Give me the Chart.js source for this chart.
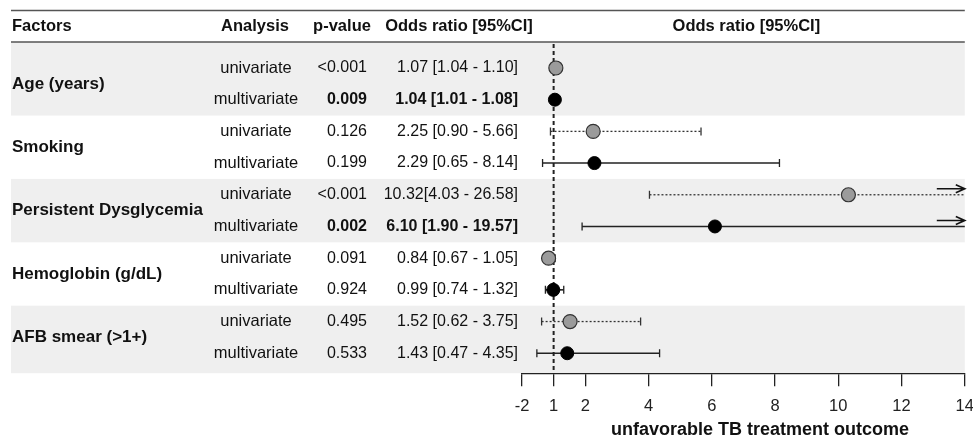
<!DOCTYPE html>
<html>
<head>
<meta charset="utf-8">
<script src="https://cdn.jsdelivr.net/npm/chart.js@4/dist/chart.umd.min.js"></script>
<style>
  body { margin: 0; background: #fff; }
</style>
</head>
<body>
<canvas id="forest" width="973" height="441"></canvas>
<script>
const factors = ["Age (years)", "Smoking", "Persistent Dysglycemia", "Hemoglobin (g/dL)", "AFB smear (>1+)"];
const analyses = ["univariate", "multivariate"];
const pValues = ["<0.001", "0.009", "0.126", "0.199", "<0.001", "0.002", "0.091", "0.924", "0.495", "0.533"];
const oddsRatios = [1.07, 1.04, 2.25, 2.29, 10.32, 6.10, 0.84, 0.99, 1.52, 1.43];
const ciLow = [1.04, 1.01, 0.90, 0.65, 4.03, 1.90, 0.67, 0.74, 0.62, 0.47];
const ciHigh = [1.10, 1.08, 5.66, 8.14, 26.58, 19.57, 1.05, 1.32, 3.75, 4.35];
const significant = [false, true, false, false, false, true, false, false, false, false];
const tickValues = [0, 1, 2, 4, 6, 8, 10, 12, 14];
const tickLabels = ["-2", "1", "2", "4", "6", "8", "10", "12", "14"];

const FONT = "'Liberation Sans', Arial, sans-serif";
const orText = (i) => {
  let or = oddsRatios[i].toFixed(2);
  let gap = oddsRatios[i] >= 10 ? "" : " ";
  return `${or}${gap}[${ciLow[i].toFixed(2)} - ${ciHigh[i].toFixed(2)}]`;
};

const rowsOf = (kind) => oddsRatios
  .map((v, i) => ({ x: v, y: i }))
  .filter((p) => p.y % 2 === kind);

const forestPlugin = {
  id: "forest",
  beforeDraw(chart) {
    const { ctx, chartArea, scales } = chart;
    const y = scales.y;
    ctx.save();
    ctx.fillStyle = "#fff";
    ctx.fillRect(0, 0, chart.width, chart.height);
    // shaded bands for every other factor
    ctx.fillStyle = "#efefef";
    for (let g = 0; g < factors.length; g += 2) {
      let top = g === 0 ? chartArea.top : y.getPixelForValue(2 * g - 0.5);
      let bottom = g === factors.length - 1 ? chartArea.bottom : y.getPixelForValue(2 * g + 1.5);
      ctx.fillRect(11, top, chartArea.right - 11, bottom - top);
    }
    ctx.strokeStyle = "#555";
    ctx.lineWidth = 1.5;
    ctx.beginPath();
    ctx.moveTo(11, 10.5);
    ctx.lineTo(chartArea.right, 10.5);
    ctx.moveTo(11, chartArea.top);
    ctx.lineTo(chartArea.right, chartArea.top);
    ctx.stroke();
    ctx.restore();
  },
  beforeDatasetsDraw(chart) {
    const { ctx, chartArea, scales } = chart;
    const x = scales.x, y = scales.y;
    ctx.save();
    // reference line at OR = 1
    ctx.strokeStyle = "#222";
    ctx.lineWidth = 2;
    ctx.setLineDash([4, 3]);
    ctx.beginPath();
    ctx.moveTo(x.getPixelForValue(1), chartArea.top + 2);
    ctx.lineTo(x.getPixelForValue(1), chartArea.bottom);
    ctx.stroke();

    for (let i = 0; i < oddsRatios.length; i++) {
      let py = y.getPixelForValue(i);
      let uni = i % 2 === 0;
      let over = ciHigh[i] > x.max;
      let xl = x.getPixelForValue(Math.max(ciLow[i], x.min));
      let xh = x.getPixelForValue(Math.min(ciHigh[i], x.max));
      ctx.strokeStyle = uni ? "#333" : "#222";
      ctx.lineWidth = uni ? 1.3 : 1.6;
      ctx.setLineDash(uni ? [2, 2] : []);
      ctx.beginPath();
      ctx.moveTo(xl, py);
      ctx.lineTo(xh, py);
      ctx.stroke();
      ctx.setLineDash([]);
      ctx.lineWidth = 1.3;
      ctx.beginPath();
      ctx.moveTo(xl, py - 4);
      ctx.lineTo(xl, py + 4);
      if (!over) {
        ctx.moveTo(xh, py - 4);
        ctx.lineTo(xh, py + 4);
      }
      ctx.stroke();
      if (over) {
        let ay = py - 6;
        ctx.strokeStyle = "#111";
        ctx.lineWidth = 1.6;
        ctx.beginPath();
        ctx.moveTo(xh - 28, ay);
        ctx.lineTo(xh, ay);
        ctx.moveTo(xh - 9, ay - 4);
        ctx.lineTo(xh, ay);
        ctx.lineTo(xh - 9, ay + 4);
        ctx.stroke();
      }
    }
    ctx.restore();
  },
  afterDraw(chart) {
    const { ctx, chartArea, scales } = chart;
    const y = scales.y;
    ctx.save();
    ctx.fillStyle = "#111";
    ctx.textBaseline = "middle";

    // header row
    ctx.font = `bold 16.5px ${FONT}`;
    ctx.textAlign = "left";
    ctx.fillText("Factors", 12, 26);
    ctx.textAlign = "center";
    ctx.fillText("Analysis", 255, 26);
    ctx.fillText("p-value", 342, 26);
    ctx.fillText("Odds ratio [95%CI]", 459, 26);
    ctx.fillText("Odds ratio [95%CI]", (chartArea.left + chartArea.right) / 2 + 3, 26);

    // factor names
    ctx.font = `bold 17px ${FONT}`;
    ctx.textAlign = "left";
    factors.forEach((f, g) => {
      let py = (y.getPixelForValue(2 * g) + y.getPixelForValue(2 * g + 1)) / 2;
      ctx.fillText(f, 12, py);
    });

    // analysis, p-value and odds ratio columns
    for (let i = 0; i < oddsRatios.length; i++) {
      let py = y.getPixelForValue(i);
      ctx.font = `16.5px ${FONT}`;
      ctx.textAlign = "center";
      ctx.fillText(analyses[i % 2], 256, py);
      ctx.font = `${significant[i] ? "bold " : ""}16px ${FONT}`;
      ctx.textAlign = "right";
      ctx.fillText(pValues[i], 367, py);
      ctx.fillText(orText(i), 518, py);
    }

    // axis title
    ctx.font = `bold 18px ${FONT}`;
    ctx.textAlign = "center";
    ctx.fillText("unfavorable TB treatment outcome", 760, 430);
    ctx.restore();
  },
};

new Chart(document.getElementById("forest"), {
  type: "scatter",
  data: {
    datasets: [
      {
        label: "univariate",
        data: rowsOf(0),
        backgroundColor: "#9b9b9b",
        borderColor: "#333",
        borderWidth: 1.2,
        pointRadius: 7,
      },
      {
        label: "multivariate",
        data: rowsOf(1),
        backgroundColor: "#000",
        borderColor: "#000",
        borderWidth: 1,
        pointRadius: 6.5,
      },
    ],
  },
  options: {
    responsive: false,
    animation: false,
    layout: { padding: { left: 522, right: 4, top: 42, bottom: 15 } },
    plugins: { legend: { display: false }, tooltip: { enabled: false } },
    scales: {
      x: {
        type: "linear",
        min: 0,
        max: 14,
        afterBuildTicks: (scale) => {
          scale.ticks = tickValues.map((v) => ({ value: v }));
        },
        afterFit: (scale) => {
          scale.paddingLeft = 0;
          scale.paddingRight = 0;
        },
        ticks: {
          callback: (value, index) => tickLabels[index],
          font: { size: 16.5, family: FONT },
          color: "#222",
          padding: 10,
          maxRotation: 0,
          autoSkip: false,
        },
        grid: { drawOnChartArea: false, tickLength: 13, color: "#222", lineWidth: 1.3 },
        border: { color: "#222", width: 1.3 },
      },
      y: {
        type: "linear",
        display: false,
        reverse: true,
        min: -0.82,
        max: 9.63,
      },
    },
  },
  plugins: [forestPlugin],
});
</script>
</body>
</html>
